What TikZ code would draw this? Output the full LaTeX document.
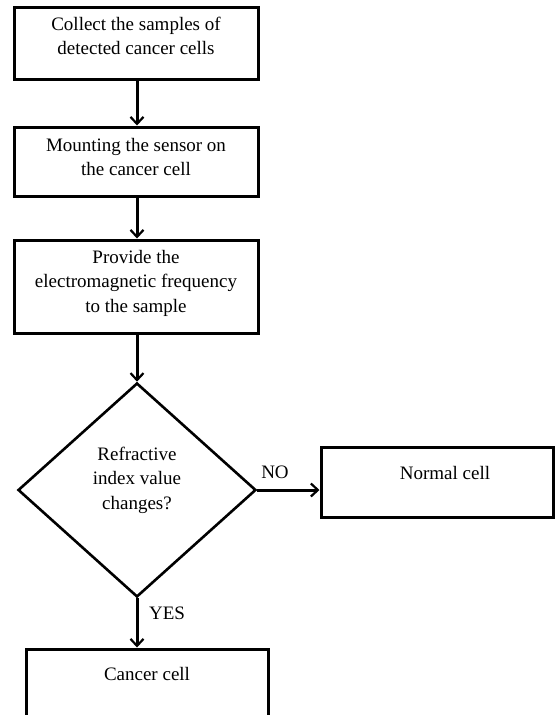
\documentclass[tikz,border=0pt]{standalone}
\usepackage{fontspec}
\setmainfont{Liberation Serif}
\usetikzlibrary{shapes.geometric,arrows.meta}
\tikzset{
  boxnode/.style={draw, line width=3pt, rectangle, inner sep=0pt},
  txt/.style={align=center, inner sep=0pt, font=\fontsize{19}{24.5}\selectfont},
  flow/.style={line width=3pt, -{Straight Barb[length=7pt,width=13pt,line width=2.2pt]}},
  lbl/.style={inner sep=0pt, font=\fontsize{19}{24.5}\selectfont}
}
\begin{document}
\begin{tikzpicture}[x=1pt,y=-1pt]
\useasboundingbox (0,0) rectangle (555,715);
\node[boxnode, minimum width=244pt, minimum height=72pt] (b1) at (136,43) {};
\node[txt] (t1) at (136,36) {Collect the samples of\\detected cancer cells};
\node[boxnode, minimum width=244pt, minimum height=69pt] (b2) at (136,161.5) {};
\node[txt] (t2) at (136,157) {Mounting the sensor on\\the cancer cell};
\node[boxnode, minimum width=244pt, minimum height=93pt] (b3) at (136,286.5) {};
\node[txt] (t3) at (136,283) {Provide the\\electromagnetic frequency\\to the sample};
\node[draw, diamond, line width=2.6pt, inner sep=0pt, minimum width=238pt, minimum height=214pt] (d) at (137,490) {};
\node[txt] (td) at (137,480) {Refractive\\index value\\changes?};
\node[boxnode, minimum width=232pt, minimum height=70pt] (n) at (437,482) {};
\node[txt] (tn) at (445,473) {Normal cell};
\node[boxnode, minimum width=242pt, minimum height=90pt] (c) at (147,694) {};
\node[txt] (tc) at (147,674) {Cancer cell};
\draw[flow] (b1.south -| d.north) -- (b2.north -| d.north);
\draw[flow] (b2.south -| d.north) -- (b3.north -| d.north);
\draw[flow] (b3.south -| d.north) -- (d.north);
\draw[flow] (d.east) -- (d.east -| n.west);
\draw[flow] (d.south) -- (c.north -| d.south);
\node[lbl] (no) at (275,472) {NO};
\node[lbl] (yes) at (167,613) {YES};
\end{tikzpicture}
\end{document}
